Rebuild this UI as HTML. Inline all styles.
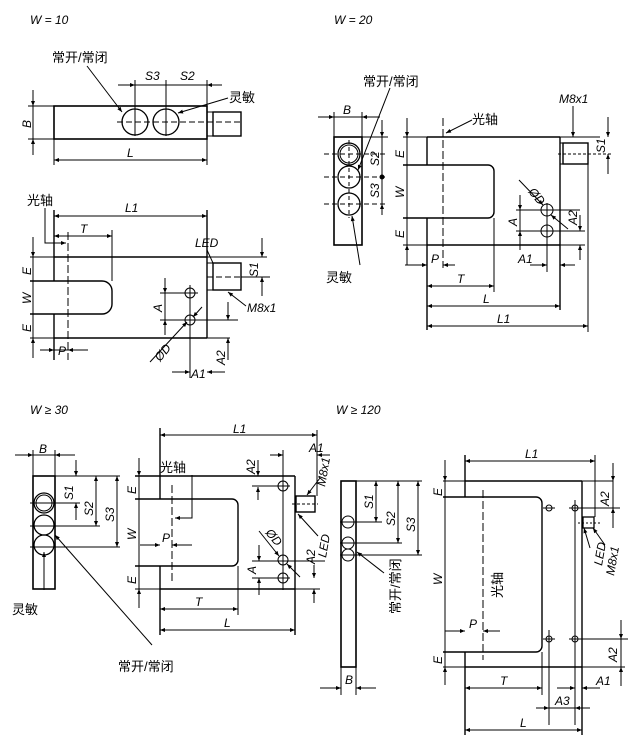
<!DOCTYPE html>
<html><head><meta charset="utf-8"><style>
body{margin:0;background:#fff}
svg{display:block}
text{font-family:"Liberation Sans","Noto Sans CJK SC",sans-serif;font-size:12px;fill:#000}
.i{font-style:italic}
.c{font-size:13px}
</style></head><body>
<svg width="636" height="750" viewBox="0 0 636 750" xmlns="http://www.w3.org/2000/svg">
<defs>
<marker id="a" viewBox="0 0 10 10" refX="10" refY="5" markerWidth="9" markerHeight="5" orient="auto-start-reverse" markerUnits="userSpaceOnUse"><path d="M0,1 L10,5 L0,9z"/></marker>
</defs>
<g stroke="#000" stroke-width="1" fill="none">
<rect x="54" y="106" width="153" height="33" stroke-width="1.6"/>
<rect x="213" y="112" width="28" height="24" stroke-width="1.4"/>
<line x1="207" y1="112" x2="213" y2="112"/><line x1="207" y1="136" x2="213" y2="136"/>
<circle cx="135" cy="122" r="13" stroke-width="1.3"/><circle cx="166" cy="122" r="13" stroke-width="1.3"/>
<line x1="117" y1="122" x2="243" y2="122" stroke-dasharray="6,3"/>
<line x1="135" y1="80" x2="135" y2="136"/><line x1="166" y1="80" x2="166" y2="136"/><line x1="207" y1="80" x2="207" y2="106"/>
<line x1="118" y1="85" x2="135" y2="85" marker-end="url(#a)"/><line x1="135" y1="85" x2="207" y2="85"/><line x1="207" y1="85" x2="222" y2="85" marker-start="url(#a)"/>
<line x1="87" y1="66" x2="122" y2="112" marker-end="url(#a)"/>
<line x1="228" y1="98" x2="178" y2="113" marker-end="url(#a)"/>
<line x1="28" y1="106" x2="54" y2="106"/><line x1="28" y1="139" x2="54" y2="139"/>
<line x1="33" y1="90" x2="33" y2="106" marker-end="url(#a)"/><line x1="33" y1="106" x2="33" y2="139"/><line x1="33" y1="155" x2="33" y2="139" marker-end="url(#a)"/>
<line x1="54" y1="139" x2="54" y2="165"/><line x1="207" y1="139" x2="207" y2="165"/>
<line x1="54" y1="160" x2="207" y2="160" marker-start="url(#a)" marker-end="url(#a)"/>
<line x1="30" y1="257" x2="267" y2="257" stroke-width="1"/>
<line x1="54" y1="257" x2="207" y2="257" stroke-width="1.6"/>
<line x1="30" y1="338" x2="230" y2="338"/>
<line x1="54" y1="338" x2="207" y2="338" stroke-width="1.6"/>
<line x1="207" y1="210" x2="207" y2="338" stroke-width="1.4"/>
<line x1="54" y1="210" x2="54" y2="281" stroke-width="1.4"/><line x1="54" y1="314" x2="54" y2="360" stroke-width="1.4"/>
<path d="M30,281 H102 A10,10 0 0 1 112,291 V304 A10,10 0 0 1 102,314 H30" stroke-width="1.4"/>
<line x1="112" y1="230" x2="112" y2="281"/>
<rect x="213" y="263" width="28" height="27" stroke-width="1.4"/>
<line x1="207" y1="263" x2="213" y2="263"/><line x1="207" y1="290" x2="213" y2="290"/>
<line x1="207" y1="277" x2="243" y2="277" stroke-dasharray="6,3"/>
<circle cx="190" cy="293" r="5"/><circle cx="190" cy="320" r="5"/>
<line x1="160" y1="293" x2="198" y2="293"/><line x1="160" y1="320" x2="238" y2="320"/>
<line x1="190" y1="285" x2="190" y2="378"/>
<line x1="68" y1="232" x2="68" y2="360" stroke-dasharray="8,3"/>
<line x1="54" y1="216" x2="207" y2="216" marker-start="url(#a)" marker-end="url(#a)"/>
<line x1="54" y1="236" x2="112" y2="236" marker-start="url(#a)" marker-end="url(#a)"/>
<path d="M45,208 V243 H66" marker-end="url(#a)"/>
<line x1="33" y1="237" x2="33" y2="257" marker-end="url(#a)"/><line x1="33" y1="257" x2="33" y2="338" /><line x1="33" y1="358" x2="33" y2="338" marker-end="url(#a)"/>
<line x1="40" y1="350" x2="54" y2="350" marker-end="url(#a)"/><line x1="88" y1="350" x2="68" y2="350" marker-end="url(#a)"/><line x1="54" y1="350" x2="68" y2="350"/>
<line x1="165" y1="278" x2="165" y2="293" marker-end="url(#a)"/><line x1="165" y1="293" x2="165" y2="320"/><line x1="165" y1="335" x2="165" y2="320" marker-end="url(#a)"/>
<line x1="150" y1="362" x2="187" y2="322" marker-end="url(#a)"/><line x1="202" y1="307" x2="193" y2="317" marker-end="url(#a)"/>
<line x1="172" y1="372" x2="190" y2="372" marker-end="url(#a)"/><line x1="225" y1="372" x2="207" y2="372" marker-end="url(#a)"/>
<line x1="228" y1="302" x2="228" y2="320" marker-end="url(#a)"/><line x1="228" y1="360" x2="228" y2="338" marker-end="url(#a)"/>
<line x1="241" y1="277" x2="270" y2="277"/>
<line x1="262" y1="238" x2="262" y2="257" marker-end="url(#a)"/><line x1="262" y1="296" x2="262" y2="277" marker-end="url(#a)"/>
<line x1="207" y1="250" x2="213" y2="263"/>
<line x1="246" y1="306" x2="228" y2="292" marker-end="url(#a)"/>

<rect x="334" y="137" width="28" height="108" stroke-width="1.6"/>
<circle cx="349" cy="154" r="11" stroke-width="1.3"/><circle cx="349" cy="154" r="9"/>
<circle cx="349" cy="177" r="11" stroke-width="1.3"/><circle cx="349" cy="204" r="11" stroke-width="1.3"/>
<line x1="324" y1="154" x2="388" y2="154" stroke-dasharray="5,3"/><line x1="324" y1="177" x2="388" y2="177" stroke-dasharray="5,3"/><line x1="324" y1="204" x2="388" y2="204" stroke-dasharray="5,3"/>
<line x1="349" y1="140" x2="349" y2="218" stroke-dasharray="4,3"/>
<line x1="362" y1="137" x2="388" y2="137"/>
<line x1="334" y1="112" x2="334" y2="137"/><line x1="362" y1="112" x2="362" y2="137"/>
<line x1="318" y1="117" x2="334" y2="117" marker-end="url(#a)"/><line x1="334" y1="117" x2="362" y2="117"/><line x1="380" y1="117" x2="362" y2="117" marker-end="url(#a)"/>
<line x1="382" y1="120" x2="382" y2="137" marker-end="url(#a)"/><line x1="382" y1="137" x2="382" y2="204"/><line x1="382" y1="215" x2="382" y2="204" marker-end="url(#a)"/>
<circle cx="382" cy="177" r="2" fill="#000"/>
<line x1="390" y1="88" x2="358" y2="170" marker-end="url(#a)"/>
<line x1="360" y1="265" x2="352" y2="216" marker-end="url(#a)"/>
<line x1="403" y1="137" x2="600" y2="137"/>
<line x1="427" y1="137" x2="560" y2="137" stroke-width="1.6"/>
<line x1="403" y1="245" x2="585" y2="245"/>
<line x1="427" y1="245" x2="560" y2="245" stroke-width="1.6"/>
<line x1="560" y1="137" x2="560" y2="310" stroke-width="1.4"/>
<line x1="427" y1="137" x2="427" y2="165" stroke-width="1.4"/><line x1="427" y1="218" x2="427" y2="330" stroke-width="1.4"/>
<path d="M403,165 H488 A6,6 0 0 1 494,171 V212 A6,6 0 0 1 488,218 H403" stroke-width="1.4"/>
<line x1="494" y1="218" x2="494" y2="292"/>
<rect x="563" y="143" width="25" height="21" stroke-width="1.4"/>
<line x1="560" y1="143" x2="563" y2="143"/><line x1="560" y1="164" x2="563" y2="164"/>
<line x1="558" y1="154" x2="612" y2="154" stroke-dasharray="3,2"/>
<line x1="588" y1="164" x2="588" y2="332"/>
<line x1="443" y1="118" x2="443" y2="268" stroke-dasharray="8,3"/>
<line x1="472" y1="120" x2="446" y2="133" marker-end="url(#a)"/>
<line x1="573" y1="106" x2="573" y2="137" marker-end="url(#a)"/>
<line x1="608" y1="117" x2="608" y2="137" marker-end="url(#a)"/><line x1="608" y1="174" x2="608" y2="154" marker-end="url(#a)"/>
<circle cx="547" cy="210" r="6"/><circle cx="547" cy="231" r="6"/>
<line x1="516" y1="210" x2="580" y2="210"/><line x1="516" y1="231" x2="585" y2="231"/>
<line x1="547" y1="203" x2="547" y2="272"/>
<line x1="519" y1="180" x2="543" y2="205" marker-end="url(#a)"/><line x1="568" y1="229" x2="551" y2="215" marker-end="url(#a)"/>
<line x1="520" y1="195" x2="520" y2="210" marker-end="url(#a)"/><line x1="520" y1="210" x2="520" y2="231"/><line x1="520" y1="250" x2="520" y2="231" marker-end="url(#a)"/>
<line x1="580" y1="215" x2="580" y2="231" marker-end="url(#a)"/><line x1="580" y1="260" x2="580" y2="245" marker-end="url(#a)"/>
<line x1="407" y1="118" x2="407" y2="137" marker-end="url(#a)"/><line x1="407" y1="137" x2="407" y2="245"/><line x1="407" y1="265" x2="407" y2="245" marker-end="url(#a)"/>
<line x1="405" y1="265" x2="427" y2="265" marker-end="url(#a)"/><line x1="455" y1="265" x2="443" y2="265" marker-end="url(#a)"/>
<line x1="530" y1="265" x2="547" y2="265" marker-end="url(#a)"/><line x1="575" y1="265" x2="560" y2="265" marker-end="url(#a)"/>
<line x1="427" y1="286" x2="494" y2="286" marker-start="url(#a)" marker-end="url(#a)"/>
<line x1="427" y1="306" x2="560" y2="306" marker-start="url(#a)" marker-end="url(#a)"/>
<line x1="427" y1="326" x2="588" y2="326" marker-start="url(#a)" marker-end="url(#a)"/>

<rect x="33" y="476" width="22" height="113" stroke-width="1.6"/>
<circle cx="44" cy="503" r="10" stroke-width="1.3"/><circle cx="44" cy="503" r="8"/>
<circle cx="44" cy="525" r="10" stroke-width="1.3"/><circle cx="44" cy="545" r="10" stroke-width="1.3"/>
<line x1="30" y1="503" x2="80" y2="503"/><line x1="30" y1="526" x2="100" y2="526"/><line x1="30" y1="547" x2="120" y2="547"/>
<line x1="55" y1="476" x2="120" y2="476"/>
<line x1="33" y1="450" x2="33" y2="476"/><line x1="55" y1="450" x2="55" y2="476"/>
<line x1="15" y1="455" x2="33" y2="455" marker-end="url(#a)"/><line x1="33" y1="455" x2="55" y2="455"/><line x1="75" y1="455" x2="55" y2="455" marker-end="url(#a)"/>
<line x1="76" y1="460" x2="76" y2="476" marker-end="url(#a)"/><line x1="76" y1="520" x2="76" y2="503" marker-end="url(#a)"/>
<line x1="96" y1="476" x2="96" y2="526" marker-start="url(#a)" marker-end="url(#a)"/>
<line x1="117" y1="476" x2="117" y2="547" marker-start="url(#a)" marker-end="url(#a)"/>
<line x1="44" y1="590" x2="44" y2="552" marker-end="url(#a)"/>
<line x1="152" y1="645" x2="55" y2="535" marker-end="url(#a)"/>
<line x1="135" y1="476" x2="295" y2="476" stroke-width="1.6"/>
<line x1="135" y1="589" x2="320" y2="589"/>
<line x1="160" y1="589" x2="295" y2="589" stroke-width="1.6"/>
<line x1="295" y1="476" x2="295" y2="635" stroke-width="1.4"/>
<line x1="160" y1="428" x2="160" y2="499" stroke-width="1.4"/><line x1="160" y1="566" x2="160" y2="635" stroke-width="1.4"/>
<path d="M135,499 H232 A6,6 0 0 1 238,505 V560 A6,6 0 0 1 232,566 H135" stroke-width="1.4"/>
<line x1="238" y1="566" x2="238" y2="615"/>
<rect x="296" y="496" width="19" height="16" stroke-width="1.4"/>
<line x1="292" y1="504" x2="318" y2="504" stroke-dasharray="3,2"/>
<line x1="172" y1="485" x2="172" y2="582" stroke-dasharray="8,3"/>
<path d="M192,475 V518 H175" marker-end="url(#a)"/>
<line x1="317" y1="430" x2="317" y2="496"/>
<line x1="160" y1="435" x2="317" y2="435" marker-start="url(#a)" marker-end="url(#a)"/>
<line x1="270" y1="455" x2="283" y2="455" marker-end="url(#a)"/><line x1="330" y1="455" x2="317" y2="455" marker-end="url(#a)"/>
<line x1="283" y1="450" x2="283" y2="590"/>
<circle cx="283" cy="486" r="5"/><circle cx="283" cy="560" r="5"/><circle cx="283" cy="578" r="5"/>
<line x1="252" y1="486" x2="290" y2="486"/><line x1="252" y1="561" x2="325" y2="561"/><line x1="252" y1="578" x2="290" y2="578"/>
<line x1="258" y1="460" x2="258" y2="476" marker-end="url(#a)"/><line x1="258" y1="500" x2="258" y2="487" marker-end="url(#a)"/>
<line x1="259" y1="545" x2="259" y2="561" marker-end="url(#a)"/><line x1="259" y1="595" x2="259" y2="578" marker-end="url(#a)"/>
<line x1="314" y1="565" x2="314" y2="578" marker-end="url(#a)"/><line x1="314" y1="603" x2="314" y2="589" marker-end="url(#a)"/>
<line x1="259" y1="531" x2="279" y2="556" marker-end="url(#a)"/><line x1="300" y1="577" x2="287" y2="564" marker-end="url(#a)"/>
<line x1="320" y1="478" x2="307" y2="495" marker-end="url(#a)"/>
<line x1="318" y1="536" x2="298" y2="514" marker-end="url(#a)"/>
<line x1="139" y1="458" x2="139" y2="476" marker-end="url(#a)"/><line x1="139" y1="476" x2="139" y2="589"/><line x1="139" y1="608" x2="139" y2="589" marker-end="url(#a)"/>
<line x1="140" y1="545" x2="160" y2="545" marker-end="url(#a)"/><line x1="192" y1="545" x2="172" y2="545" marker-end="url(#a)"/>
<line x1="160" y1="609" x2="238" y2="609" marker-start="url(#a)" marker-end="url(#a)"/>
<line x1="160" y1="630" x2="295" y2="630" marker-start="url(#a)" marker-end="url(#a)"/>

<rect x="341" y="481" width="15" height="186" stroke-width="1.6"/>
<circle cx="348" cy="522" r="6"/><circle cx="348" cy="543" r="6"/><circle cx="348" cy="555" r="6"/>
<line x1="340" y1="522" x2="382" y2="522"/><line x1="340" y1="543" x2="402" y2="543"/><line x1="340" y1="555" x2="422" y2="555"/>
<line x1="356" y1="481" x2="422" y2="481"/>
<line x1="376" y1="481" x2="376" y2="522" marker-start="url(#a)" marker-end="url(#a)"/>
<line x1="398" y1="481" x2="398" y2="543" marker-start="url(#a)" marker-end="url(#a)"/>
<line x1="418" y1="481" x2="418" y2="555" marker-start="url(#a)" marker-end="url(#a)"/>
<line x1="384" y1="573" x2="357" y2="552" marker-end="url(#a)"/>
<line x1="341" y1="667" x2="341" y2="695"/><line x1="356" y1="667" x2="356" y2="695"/>
<line x1="320" y1="688" x2="341" y2="688" marker-end="url(#a)"/><line x1="376" y1="688" x2="356" y2="688" marker-end="url(#a)"/>
<line x1="443" y1="481" x2="613" y2="481"/>
<line x1="465" y1="481" x2="582" y2="481" stroke-width="1.6"/>
<line x1="443" y1="667" x2="625" y2="667"/>
<line x1="465" y1="667" x2="582" y2="667" stroke-width="1.6"/>
<line x1="582" y1="481" x2="582" y2="735" stroke-width="1.4"/>
<line x1="465" y1="455" x2="465" y2="497" stroke-width="1.4"/><line x1="465" y1="652" x2="465" y2="735" stroke-width="1.4"/>
<path d="M443,497 H536 A6,6 0 0 1 542,503 V646 A6,6 0 0 1 536,652 H443" stroke-width="1.4"/>
<line x1="542" y1="652" x2="542" y2="695"/>
<rect x="583" y="517" width="11" height="11" stroke-width="1.3"/>
<line x1="578" y1="523" x2="600" y2="523" stroke-dasharray="2,2"/>
<line x1="483" y1="490" x2="483" y2="660" stroke-dasharray="8,3"/>
<line x1="595" y1="455" x2="595" y2="517"/>
<line x1="465" y1="461" x2="595" y2="461" marker-start="url(#a)" marker-end="url(#a)"/>
<circle cx="549" cy="508" r="3"/><circle cx="575" cy="508" r="3"/><circle cx="549" cy="639" r="3"/><circle cx="575" cy="639" r="3"/>
<line x1="543" y1="508" x2="555" y2="508"/><line x1="569" y1="508" x2="620" y2="508"/>
<line x1="543" y1="639" x2="555" y2="639"/><line x1="569" y1="639" x2="628" y2="639"/>
<line x1="549" y1="630" x2="549" y2="725"/><line x1="575" y1="500" x2="575" y2="725"/>
<line x1="613" y1="463" x2="613" y2="481" marker-end="url(#a)"/><line x1="613" y1="528" x2="613" y2="508" marker-end="url(#a)"/><line x1="613" y1="481" x2="613" y2="508"/>
<line x1="621" y1="620" x2="621" y2="639" marker-end="url(#a)"/><line x1="621" y1="686" x2="621" y2="667" marker-end="url(#a)"/><line x1="621" y1="639" x2="621" y2="667"/>
<line x1="445" y1="460" x2="445" y2="481" marker-end="url(#a)"/><line x1="445" y1="481" x2="445" y2="667"/><line x1="445" y1="685" x2="445" y2="667" marker-end="url(#a)"/>
<line x1="445" y1="631" x2="465" y2="631" marker-end="url(#a)"/><line x1="500" y1="631" x2="483" y2="631" marker-end="url(#a)"/>
<line x1="465" y1="688" x2="542" y2="688" marker-start="url(#a)" marker-end="url(#a)"/>
<line x1="557" y1="688" x2="575" y2="688" marker-end="url(#a)"/><line x1="600" y1="688" x2="582" y2="688" marker-end="url(#a)"/>
<line x1="536" y1="708" x2="549" y2="708" marker-end="url(#a)"/><line x1="590" y1="708" x2="575" y2="708" marker-end="url(#a)"/><line x1="549" y1="708" x2="575" y2="708"/>
<line x1="465" y1="730" x2="582" y2="730" marker-start="url(#a)" marker-end="url(#a)"/>
<line x1="590" y1="548" x2="584" y2="528" marker-end="url(#a)"/><line x1="605" y1="545" x2="593" y2="528" marker-end="url(#a)"/>
</g>
<g>
<text x="30" y="24" class="i">W = 10</text>
<text x="334" y="24" class="i">W = 20</text>
<text x="30" y="414" class="i">W ≥ 30</text>
<text x="336" y="414" class="i">W ≥ 120</text>
<text x="52" y="62" class="c">常开/常闭</text>
<text x="145" y="80" class="i">S3</text><text x="180" y="80" class="i">S2</text>
<text x="229" y="102" class="c">灵敏</text>
<text class="i" transform="translate(31,128) rotate(-90)">B</text>
<text x="127" y="157" class="i">L</text>
<text x="27" y="205" class="c">光轴</text>
<text x="125" y="212" class="i">L1</text>
<text x="80" y="233" class="i">T</text>
<text x="195" y="247" class="i">LED</text>
<text class="i" transform="translate(258,277) rotate(-90)">S1</text>
<text class="i" transform="translate(31,275) rotate(-90)">E</text>
<text class="i" transform="translate(31,304) rotate(-90)">W</text>
<text class="i" transform="translate(31,332) rotate(-90)">E</text>
<text class="i" transform="translate(162,312) rotate(-90)">A</text>
<text x="247" y="312" class="i">M8x1</text>
<text class="i" transform="translate(160,362) rotate(-50)">ØD</text>
<text x="58" y="355" class="i">P</text>
<text x="191" y="378" class="i">A1</text>
<text class="i" transform="translate(225,365) rotate(-90)">A2</text>
<text x="363" y="86" class="c">常开/常闭</text>
<text x="559" y="103" class="i">M8x1</text>
<text x="343" y="114" class="i">B</text>
<text x="472" y="124" class="c">光轴</text>
<text class="i" transform="translate(379,166) rotate(-90)">S2</text>
<text class="i" transform="translate(379,198) rotate(-90)">S3</text>
<text class="i" transform="translate(605,153) rotate(-90)">S1</text>
<text class="i" transform="translate(404,158) rotate(-90)">E</text>
<text class="i" transform="translate(404,198) rotate(-90)">W</text>
<text class="i" transform="translate(404,238) rotate(-90)">E</text>
<text class="i" transform="translate(517,226) rotate(-90)">A</text>
<text class="i" transform="translate(577,225) rotate(-90)">A2</text>
<text class="i" transform="translate(528,192) rotate(50)">ØD</text>
<text x="326" y="282" class="c">灵敏</text>
<text x="431" y="263" class="i">P</text>
<text x="518" y="263" class="i">A1</text>
<text x="457" y="283" class="i">T</text>
<text x="483" y="303" class="i">L</text>
<text x="497" y="323" class="i">L1</text>
<text x="39" y="453" class="i">B</text>
<text x="233" y="433" class="i">L1</text>
<text x="309" y="452" class="i">A1</text>
<text x="160" y="472" class="c">光轴</text>
<text class="i" transform="translate(73,500) rotate(-90)">S1</text>
<text class="i" transform="translate(93,516) rotate(-90)">S2</text>
<text class="i" transform="translate(114,522) rotate(-90)">S3</text>
<text class="i" transform="translate(255,474) rotate(-90)">A2</text>
<text class="i" transform="translate(325,487) rotate(-80)">M8x1</text>
<text class="i" transform="translate(136,494) rotate(-90)">E</text>
<text class="i" transform="translate(136,540) rotate(-90)">W</text>
<text class="i" transform="translate(136,584) rotate(-90)">E</text>
<text x="162" y="542" class="i">P</text>
<text class="i" transform="translate(265,533) rotate(50)">ØD</text>
<text class="i" transform="translate(256,574) rotate(-90)">A</text>
<text class="i" transform="translate(315,564) rotate(-90)">A2</text>
<text class="i" transform="translate(326,558) rotate(-80)">LED</text>
<text x="12" y="614" class="c">灵敏</text>
<text x="195" y="606" class="i">T</text>
<text x="224" y="627" class="i">L</text>
<text x="118" y="671" class="c">常开/常闭</text>
<text x="525" y="458" class="i">L1</text>
<text class="i" transform="translate(373,509) rotate(-90)">S1</text>
<text class="i" transform="translate(395,526) rotate(-90)">S2</text>
<text class="i" transform="translate(415,532) rotate(-90)">S3</text>
<text class="i" transform="translate(609,506) rotate(-90)">A2</text>
<text class="i" transform="translate(442,496) rotate(-90)">E</text>
<text class="i" transform="translate(442,585) rotate(-90)">W</text>
<text class="i" transform="translate(442,664) rotate(-90)">E</text>
<text class="c" transform="translate(502,598) rotate(-90)">光轴</text>
<text class="c" transform="translate(400,614) rotate(-90)">常开/常闭</text>
<text class="i" transform="translate(602,566) rotate(-80)">LED</text>
<text class="i" transform="translate(614,576) rotate(-80)">M8x1</text>
<text x="469" y="628" class="i">P</text>
<text class="i" transform="translate(617,662) rotate(-90)">A2</text>
<text x="345" y="684" class="i">B</text>
<text x="500" y="685" class="i">T</text>
<text x="596" y="685" class="i">A1</text>
<text x="555" y="705" class="i">A3</text>
<text x="520" y="727" class="i">L</text>
</g>
</svg>
</body></html>
